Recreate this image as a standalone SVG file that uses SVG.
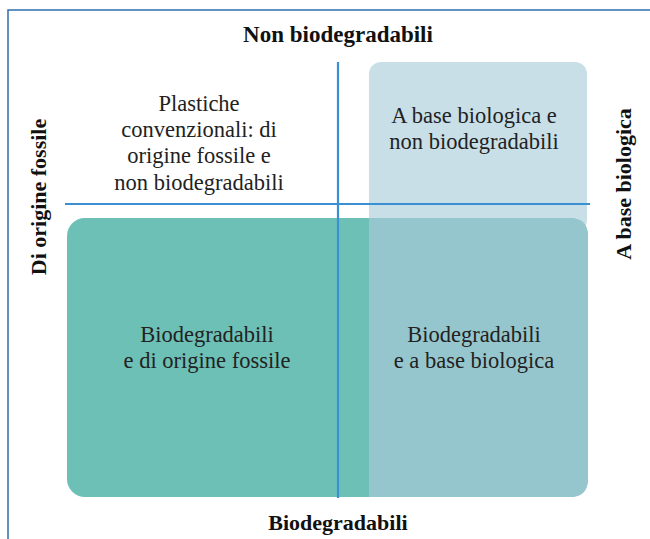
<svg xmlns="http://www.w3.org/2000/svg" width="650" height="539" viewBox="0 0 650 539">
<style>
.axis{font-family:"Liberation Serif","Times New Roman",serif;font-weight:bold;font-size:22px;fill:#111;text-anchor:middle}
.lbl{font-family:"Liberation Serif","Times New Roman",serif;font-size:22.5px;fill:#222;text-anchor:middle}
.ln{stroke:#3b8fd3;stroke-width:2.2;fill:none}
</style>
<rect width="650" height="539" fill="#ffffff"/>
<path d="M8 539 V10 H650" fill="none" stroke="#2f6eae" stroke-width="1.5"/>
<g id="q-bio-nonbio">
<rect x="369" y="62" width="218" height="170" rx="12" fill="#c8dfe8"/>
</g>
<g id="q-biodeg-fossil">
<rect x="67" y="218" width="521" height="279" rx="18" fill="#6dc0b5"/>
</g>
<g id="q-biodeg-bio">
<path d="M369 218 H570 Q588 218 588 236 V479 Q588 497 570 497 H369 Z" fill="#96c6cd"/>
</g>
<g id="connectors">
<line class="ln" x1="338" y1="62" x2="338" y2="498"/>
<line class="ln" x1="65" y1="204" x2="590" y2="204"/>
</g>
<g id="labels-axes">
<text class="axis" x="338" y="42" style="font-size:23px">Non biodegradabili</text>
<text class="axis" x="338" y="530">Biodegradabili</text>
<text class="axis" transform="translate(46 197) rotate(-90)">Di origine fossile</text>
<text class="axis" transform="translate(631 184) rotate(-90)">A base biologica</text>
</g>
<g id="text-fossil-nonbio">
<text class="lbl" x="199" y="111">Plastiche</text>
<text class="lbl" x="199" y="137">convenzionali: di</text>
<text class="lbl" x="199" y="163">origine fossile e</text>
<text class="lbl" x="199" y="190">non biodegradabili</text>
</g>
<g id="text-bio-nonbio">
<text class="lbl" x="474" y="123">A base biologica e</text>
<text class="lbl" x="474" y="149">non biodegradabili</text>
</g>
<g id="text-biodeg-fossil">
<text class="lbl" x="207" y="342">Biodegradabili</text>
<text class="lbl" x="207" y="368">e di origine fossile</text>
</g>
<g id="text-biodeg-bio">
<text class="lbl" x="474" y="342">Biodegradabili</text>
<text class="lbl" x="474" y="368">e a base biologica</text>
</g>
</svg>
